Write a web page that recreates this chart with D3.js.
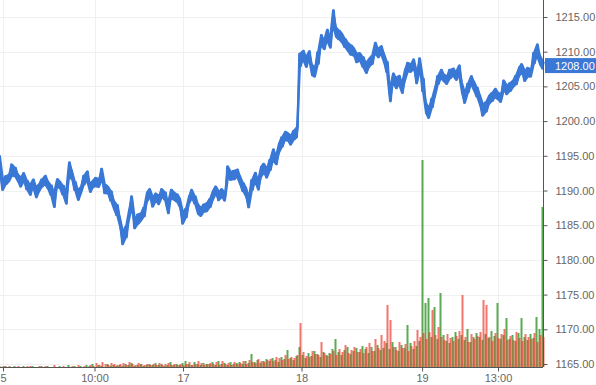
<!DOCTYPE html>
<html><head><meta charset="utf-8">
<script src="https://cdn.jsdelivr.net/npm/d3@7"></script>
<style>html,body{margin:0;padding:0;background:#fff;}svg{display:block;}</style>
</head><body>
<script>
// price samples (evenly spaced in time)
const prices = [
1193.67,1190.79,1191.51,1191.80,1192.95,1192.67,1191.80,1191.22,1191.95,1190.79,
1190.07,1191.08,1189.78,1190.36,1191.08,1191.51,1190.79,1190.07,1188.63,1191.08,
1190.79,1190.07,1188.92,1192.95,1192.23,1190.65,1189.35,1190.07,1191.51,1192.09,
1190.36,1190.94,1191.22,1191.08,1192.38,1190.22,1190.07,1189.21,1187.91,1187.19,
1185.46,1183.16,1184.02,1186.47,1188.34,1185.17,1185.89,1186.18,1186.90,1189.06,
1189.64,1188.34,1189.06,1188.63,1189.64,1189.21,1187.48,1189.50,1189.21,1188.92,
1188.20,1186.04,1186.76,1188.63,1189.50,1188.63,1187.33,1186.90,1187.48,1187.62,
1188.20,1189.35,1190.07,1189.21,1189.64,1189.06,1192.67,1192.09,1192.23,1192.52,
1191.51,1190.50,1189.78,1188.34,1190.79,1191.95,1190.79,1192.67,1193.24,1192.52,
1193.67,1195.12,1194.39,1196.12,1196.99,1197.85,1197.71,1197.28,1198.00,1198.43,
1208.80,1209.52,1208.52,1209.52,1207.36,1207.07,1209.09,1211.69,1210.97,1212.41,
1211.25,1214.86,1212.84,1212.41,1211.97,1211.25,1210.68,1210.24,1209.96,1209.09,
1209.24,1208.52,1207.65,1208.37,1208.80,1210.53,1209.81,1210.24,1209.09,1207.80,
1203.76,1206.21,1205.49,1205.92,1204.77,1206.64,1207.80,1207.65,1208.23,1206.21,
1208.23,1205.20,1201.89,1201.17,1202.61,1204.19,1205.92,1206.79,1206.21,1205.92,
1206.79,1207.07,1206.50,1207.36,1204.77,1203.33,1204.77,1205.92,1205.06,1204.19,
1203.04,1201.60,1202.03,1203.04,1203.47,1204.05,1203.62,1203.33,1205.20,1204.48,
1204.91,1205.35,1205.92,1207.07,1207.65,1206.50,1207.07,1206.93,1209.09,1210.24,
1208.80,1208.08
];
// high-low range traded within each sample
const spreads = [
2.6,1.4,1.1,1.0,1.6,1.2,1.0,1.3,1.1,1.2, 1.4,1.0,1.5,1.1,1.0,1.2,1.1,1.3,2.0,1.1,
1.0,1.2,1.6,2.2,1.2,1.1,1.4,1.0,1.2,1.3, 1.1,1.0,1.2,1.1,1.5,1.2,1.0,1.3,1.2,1.4,
1.3,1.8,1.5,1.4,1.6,1.2,1.3,1.1,1.2,1.4, 1.1,1.3,1.0,1.2,1.1,1.0,1.5,1.2,1.1,1.0,
1.3,1.6,1.2,1.1,1.2,1.0,1.4,1.1,1.0,1.2, 1.1,1.3,1.0,1.2,1.1,1.0,1.6,1.1,1.2,1.0,
1.2,1.1,1.3,1.5,1.4,1.2,1.3,1.5,1.2,1.3, 1.4,1.6,1.2,1.4,1.3,1.2,1.1,1.3,1.2,1.5,
1.8,1.2,1.4,1.1,1.5,1.3,1.6,1.4,1.2,1.5, 1.3,2.2,1.4,1.2,1.3,1.1,1.2,1.3,1.1,1.2,
1.1,1.3,1.4,1.2,1.1,1.5,1.2,1.1,1.3,1.4, 1.8,1.3,1.5,1.2,1.4,1.6,1.2,1.1,1.3,1.5,
1.6,1.8,1.5,1.4,1.2,1.3,1.1,1.2,1.0,1.1, 1.2,1.0,1.1,1.3,1.5,1.4,1.2,1.1,1.3,1.2,
1.4,1.6,1.3,1.2,1.1,1.2,1.0,1.1,1.3,1.2, 1.1,1.0,1.2,1.3,1.1,1.4,1.2,1.0,1.5,1.6,
1.3,1.0
];
// volume per sample: buyers (green) and sellers (red)
const volUp = [
1,0,1,0,0,1,0,0,1,0, 0,1,0,0,1,0,1,0,0,0, 1,0,0,2,0,1,0,1,0,2,
1,3,0,2,1,0,3,1,2,1, 2,1,3,2,4,1,2,3,1,2, 3,2,4,2,3,1,2,5,2,3,
2,4,6,3,2,5,3,2,4,3, 3,5,2,6,3,4,2,5,3,4, 5,3,6,4,13,5,7,4,6,8,
6,9,7,5,10,8,17,9,7,11, 20,12,9,14,11,16,13,10,15,12, 14,18,28,15,12,17,20,13,16,19,
15,21,18,14,20,16,22,17,19,24, 18,25,20,16,22,19,42,24,18,21, 26,207,64,69,30,60,28,74,32,26,
24,30,35,28,32,27,38,25,30,34, 30,27,33,29,36,31,64,28,32,49, 28,32,26,34,49,30,27,33,29,50,
38,160
];
const volDown = [
0,1,0,1,0,0,1,0,0,1, 1,0,0,1,0,1,0,0,2,0, 0,1,0,0,1,0,2,0,1,0,
2,1,4,2,5,3,2,4,3,2, 3,4,2,5,3,2,4,3,2,3, 2,3,2,4,2,3,4,2,3,2,
3,2,3,5,2,3,6,4,2,3, 4,3,5,2,6,3,4,2,5,3, 4,6,3,7,5,4,8,6,5,7,
8,6,10,9,7,12,8,10,9,12, 44,15,11,10,16,13,12,25,14,11, 13,16,12,18,15,22,14,17,20,15,
18,14,20,24,16,28,19,32,26,62, 47,20,17,25,19,23,16,21,26,37, 30,34,28,35,57,32,40,30,27,33,
29,26,31,36,72,30,25,33,28,31, 35,67,62,30,26,34,29,33,38,27, 31,27,35,29,26,33,30,28,34,25,
32,30
];
const timeTicks = [1, 31.5, 61, 100.5, 140.7, 166];
const timeLabels = ["5", "10:00", "17", "18", "19", "13:00"];
const priceTicks = [1165,1170,1175,1180,1185,1190,1195,1200,1205,1210,1215];
const lastPrice = 1208.00;

const W = 596, H = 385;
const plotR = 543, plotB = 367;
const svg = d3.select("body").append("svg").attr("width", W).attr("height", H);

const x = d3.scaleLinear().domain([0, prices.length - 1]).range([0, plotR]);
const y = d3.scaleLinear().domain([1165, 1215]).range([364, 17]);
const v = d3.scaleLinear().domain([0, 210]).range([plotB, plotB - 210]);

// grid
svg.append("g").selectAll("line").data(priceTicks).join("line")
  .attr("x1", 0).attr("x2", plotR)
  .attr("y1", d => Math.round(y(d)) + 0.5).attr("y2", d => Math.round(y(d)) + 0.5)
  .attr("stroke", "#f0f0f0");
svg.append("g").selectAll("line").data(timeTicks).join("line")
  .attr("x1", d => Math.round(x(d)) + 0.5).attr("x2", d => Math.round(x(d)) + 0.5)
  .attr("y1", 0).attr("y2", plotB)
  .attr("stroke", "#f0f0f0");

// volume
svg.append("g").selectAll("rect").data(volUp).join("rect")
  .attr("x", (d, i) => x(i) - 1.5).attr("width", 2)
  .attr("y", d => v(d)).attr("height", d => plotB - v(d))
  .attr("fill", "#3f9b35").attr("opacity", 0.85);
svg.append("g").selectAll("rect").data(volDown).join("rect")
  .attr("x", (d, i) => x(i) - 0.5).attr("width", 2)
  .attr("y", d => v(d)).attr("height", d => plotB - v(d))
  .attr("fill", "#f03a2c").attr("opacity", 0.7);

const blue = "#3a78d6";
// high-low band
svg.append("path").datum(prices)
  .attr("fill", blue).attr("stroke", blue).attr("stroke-width", 2).attr("stroke-linejoin", "round")
  .attr("d", d3.area().x((d, i) => x(i))
    .y0((d, i) => y(d - spreads[i] / 2)).y1((d, i) => y(d + spreads[i] / 2)));

// price line: passes through each sample's high and low
const pts = [];
prices.forEach((p, i) => {
  const s = spreads[i] / 2;
  const a = i % 2 ? -s : s;
  pts.push([x(i) - 0.75, y(p + a)]);
  pts.push([x(i) + 0.75, y(p - a)]);
});
svg.append("path").datum(pts)
  .attr("fill", "none").attr("stroke", blue).attr("stroke-width", 2.2)
  .attr("stroke-linejoin", "round")
  .attr("d", d3.line());

// axes
const yAxis = d3.axisRight(y).tickValues(priceTicks).tickFormat(d3.format(".2f"))
  .tickSize(4).tickPadding(8);
const gy = svg.append("g").attr("transform", `translate(${plotR + 0.5},0)`).call(yAxis);
gy.select(".domain").attr("d", `M0,0V${plotB}`).attr("stroke", "#555");
gy.selectAll(".tick line").attr("stroke", "#555");
gy.selectAll("text").attr("fill", "#666").style("font", "11px 'Liberation Sans', Arial, sans-serif");

const xAxis = d3.axisBottom(x).tickValues(timeTicks)
  .tickFormat((d, i) => timeLabels[i]).tickSize(4).tickPadding(3);
const gx = svg.append("g").attr("transform", `translate(0,${plotB + 0.5})`).call(xAxis);
gx.select(".domain").attr("d", `M0,0H${plotR}`).attr("stroke", "#555");
gx.selectAll(".tick line").attr("stroke", "#555");
gx.selectAll("text").attr("fill", "#666").style("font", "11px 'Liberation Sans', Arial, sans-serif");

// last price marker
const ly = y(lastPrice);
svg.append("rect").attr("x", plotR + 2).attr("y", ly - 7.5).attr("width", W - plotR - 2).attr("height", 15)
  .attr("fill", blue);
svg.append("text").attr("x", plotR + 12).attr("y", ly + 4).text(d3.format(".2f")(lastPrice))
  .attr("fill", "#fff").style("font", "11px 'Liberation Sans', Arial, sans-serif");
</script>
</body></html>
